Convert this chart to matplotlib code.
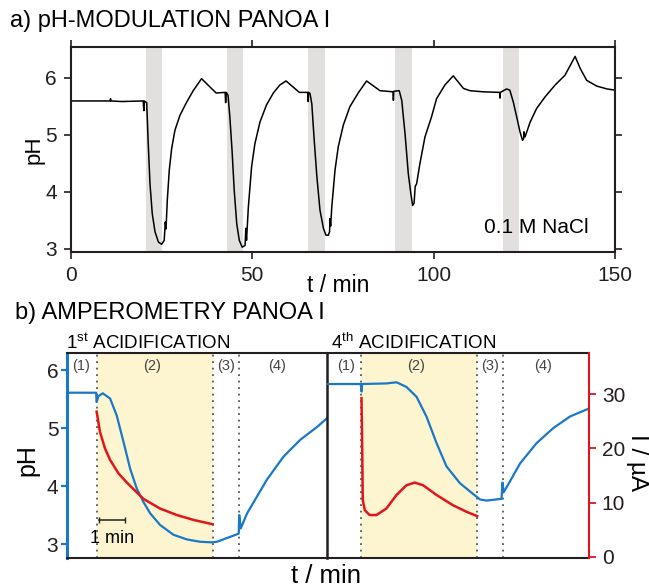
import matplotlib
matplotlib.use('Agg')
import matplotlib.pyplot as plt

plt.rcParams['font.family'] = ['Liberation Sans', 'DejaVu Sans']
plt.rcParams['mathtext.fontset'] = 'custom'
plt.rcParams['mathtext.rm'] = 'Liberation Sans'

# ---- a) pH modulation over the whole run (t in min) ----
t_a = [0, 10.8, 10.9, 11.0, 14, 19.9, 20.1, 20.2, 20.87, 21.3, 21.78, 22.4, 23.16, 24.1, 25.0,
       25.7, 26.0, 26.2, 26.55, 27.1, 27.76, 28.67, 30.05, 31.9, 33.7, 36.0,
       40.0, 42.5, 42.64, 42.8, 43.3, 43.8, 44.4, 45.0, 45.7, 46.4, 47.2, 48.0, 48.2, 48.4,
       48.9, 49.8, 50.7, 52.1, 53.9, 55.8, 57.6, 59.3, 62.96, 65.3, 65.4, 65.5, 65.9, 66.4,
       67.0, 67.8, 68.65, 69.6, 70.3, 70.95, 71.3, 71.4, 71.6, 71.9, 72.8, 73.7, 75.1, 76.9,
       79.2, 81.5, 85.2, 88.8, 88.9, 89.0, 90.5, 91.2, 92.1, 93.0, 93.7, 94.2, 94.6, 94.9,
       95.3, 96.2, 97.6, 99.4, 100.8, 103.1, 105.4, 108.2, 110.0, 113.7, 118.2, 118.3, 118.4,
       120.1, 121.0, 121.96, 122.9, 123.8, 124.5, 124.8, 124.9, 125.2, 126.6, 128.4, 130.7,
       133.5, 136.2, 139.0, 140.4, 142.2, 145.0, 147.8, 150]
ph_a = [5.59, 5.59, 5.63, 5.59, 5.58, 5.59, 5.42, 5.59, 5.56, 4.84, 4.14, 3.62, 3.30, 3.12, 3.08,
        3.15, 3.47, 3.35, 3.85, 4.38, 4.76, 5.08, 5.34, 5.57, 5.77, 5.98,
        5.73, 5.74, 5.56, 5.74, 5.69, 5.31, 4.73, 4.03, 3.44, 3.15, 3.03, 3.06, 3.36, 3.15,
        3.73, 4.44, 4.84, 5.22, 5.52, 5.73, 5.87, 5.94, 5.74, 5.74, 5.58, 5.74, 5.72, 5.54,
        4.96, 4.26, 3.68, 3.36, 3.24, 3.24, 3.30, 3.53, 3.40, 3.73, 4.38, 4.79, 5.17, 5.49,
        5.73, 5.94, 5.77, 5.75, 5.60, 5.76, 5.77, 5.60, 5.02, 4.32, 3.97, 3.76, 3.80, 4.09,
        4.14, 4.49, 4.96, 5.31, 5.63, 5.87, 6.03, 5.81, 5.77, 5.75, 5.74, 5.64, 5.74,
        5.80, 5.78, 5.57, 5.31, 5.05, 4.90, 4.93, 5.05, 4.96, 5.22, 5.46, 5.66,
        5.87, 6.04, 6.37, 6.16, 5.95, 5.85, 5.80, 5.78]
acid_start = [20.8, 42.9, 65.4, 89.3, 119.0]
acid_end = [25.1, 47.5, 70.0, 93.9, 123.5]

# ---- b) amperometry, 1st acidification (t in min from start of window) ----
t_b1 = [0, 1.16, 1.18, 1.25, 1.42, 1.71, 1.97, 2.24, 2.5, 2.76, 3.02, 3.29, 3.68, 4.21, 4.74,
        5.26, 5.72, 5.92, 6.78, 6.80, 6.86, 7.11, 7.5, 7.89, 8.55, 9.21, 9.87, 10.26]
ph_b1 = [5.61, 5.61, 5.45, 5.55, 5.60, 5.51, 5.22, 4.76, 4.30, 3.96, 3.73, 3.53, 3.33, 3.16, 3.08,
         3.04, 3.03, 3.04, 3.18, 3.50, 3.27, 3.53, 3.82, 4.11, 4.51, 4.80, 5.02, 5.17]
ti_b1 = [1.18, 1.31, 1.51, 1.71, 2.04, 2.37, 3.02, 3.68, 4.34, 5.0, 5.75]
i_b1 = [26.8, 23.1, 20.0, 17.9, 15.4, 13.7, 10.7, 8.9, 7.7, 6.8, 6.0]

# ---- b) amperometry, 4th acidification ----
t_b4 = [0, 1.33, 1.36, 1.38, 2.34, 2.74, 3.13, 3.53, 3.92, 4.32, 4.71, 5.24, 5.63, 6.03, 6.29,
        6.88, 6.92, 6.96, 7.21, 7.61, 8.26, 8.92, 9.58, 10.34]
ph_b4 = [5.76, 5.76, 5.63, 5.76, 5.77, 5.79, 5.71, 5.54, 5.20, 4.74, 4.34, 4.05, 3.91, 3.77, 3.75,
         3.78, 4.06, 3.89, 4.08, 4.39, 4.74, 5.00, 5.20, 5.34]
ti_b4 = [1.36, 1.38, 1.41, 1.49, 1.68, 1.95, 2.34, 2.74, 3.13, 3.46, 3.79, 4.32, 4.97, 5.5, 5.92]
i_b4 = [29.3, 22.8, 10.5, 8.6, 7.7, 7.7, 8.9, 11.4, 13.2, 13.7, 13.2, 11.4, 9.5, 8.3, 7.5]

# phase boundaries (1)|(2), (2)|(3), (3)|(4)
bounds_b1 = [1.18, 5.75, 6.80]
bounds_b4 = [1.36, 5.92, 6.92]
phase_names = ['(1)', '(2)', '(3)', '(4)']
phase_x_b1 = [0.57, 3.36, 6.28, 8.29]
phase_x_b4 = [0.76, 3.53, 6.42, 8.53]

W, H = 649, 587
blue = '#1a78c8'
red = '#e0161b'
dark = '#231f20'


def box(l, t, r, b):
    return [l / W, 1 - b / H, (r - l) / W, (b - t) / H]


fig = plt.figure(figsize=(W / 100, H / 100), dpi=100)

# ---------------- panel a ----------------
ax = fig.add_axes(box(71, 46.7, 615, 252.3))
for s, e in zip(acid_start, acid_end):
    ax.axvspan(s, e, color='#e2dfdf', lw=0)
ax.plot(t_a, ph_a, color='black', lw=1.1)
ax.set_xlim(0, 150)
ax.set_ylim(2.94, 6.54)
ax.set_xticks([0, 50, 100, 150])
ax.set_yticks([3, 4, 5, 6])
ax.tick_params(direction='out', length=5, width=1.2, colors=dark, labelsize=15,
               top=True, right=True, labeltop=False, labelright=False, pad=5)
for sp in ax.spines.values():
    sp.set_color(dark)
    sp.set_linewidth(1.5)
ax.text(0.952, 0.12, '0.1 M NaCl', transform=ax.transAxes, ha='right', va='center', fontsize=15)
fig.text(10 / W, 1 - 21 / H, 'a) pH-MODULATION PANOA I', fontsize=17, va='center')
fig.text(34 / W, 1 - 150 / H, 'pH', rotation=90, fontsize=16, ha='center', va='center')
fig.text(338 / W, 1 - 286 / H, 't / min', fontsize=16.5, ha='center', va='center')

# ---------------- panel b ----------------
fig.text(15 / W, 1 - 313 / H, 'b) AMPEROMETRY PANOA I', fontsize=17, va='center')

axl = fig.add_axes(box(66.7, 352.7, 327, 558))
axr = fig.add_axes(box(327, 352.7, 589.3, 558))
axl2 = axl.twinx()
axr2 = axr.twinx()

panels = [(axl, axl2, t_b1, ph_b1, ti_b1, i_b1, bounds_b1, phase_x_b1, 10.26),
          (axr, axr2, t_b4, ph_b4, ti_b4, i_b4, bounds_b4, phase_x_b4, 10.34)]
for a, a2, tt, ph, ti, cur, bd, px, xmax in panels:
    a.axvspan(bd[0], bd[1], color='#fdf5cf', lw=0, zorder=0)
    for b in bd:
        a.axvline(b, color='#555555', lw=1.3, ls=(0, (1, 2.6)), zorder=1)
    a.plot(tt, ph, color=blue, lw=1.6, zorder=3)
    a2.plot(ti, cur, color=red, lw=1.8, zorder=3)
    a.set_xlim(0, xmax)
    a2.set_xlim(0, xmax)
    a.set_ylim(2.76, 6.30)
    a2.set_ylim(-0.24, 37.7)
    a.set_xticks([])
    for lbl, x in zip(phase_names, px):
        a.text(x, 6.07, lbl, ha='center', va='center', fontsize=10.5, color='#444444')
    for sp in a.spines.values():
        sp.set_color(dark)
        sp.set_linewidth(1.5)
    for sp in a2.spines.values():
        sp.set_visible(False)
    a.set_zorder(1)
    a2.set_zorder(2)

axl.set_yticks([3, 4, 5, 6])
axl.tick_params(axis='y', direction='out', length=4, width=1.6, colors=blue,
                labelcolor=dark, labelsize=15, pad=2)
axl.spines['left'].set_color(blue)
axl.spines['left'].set_linewidth(2.2)
axl.spines['right'].set_visible(False)
axl2.set_yticks([])
axr.set_yticks([])
axr.spines['left'].set_linewidth(1.8)
axr.spines['right'].set_visible(False)
axr2.set_yticks([0, 10, 20, 30])
axr2.spines['right'].set_visible(True)
axr2.spines['right'].set_color(red)
axr2.spines['right'].set_linewidth(1.5)
axr2.tick_params(axis='y', direction='out', length=5, width=1.3, colors=red,
                 labelcolor=dark, labelsize=15, pad=4)

# 1 min scale bar
bar_t = [1.28, 2.28]
bar_ph = [3.41, 3.41]
axl.plot(bar_t, bar_ph, color=dark, lw=1.1, marker='|', ms=5, zorder=4)
axl.text(1.78, 3.09, '1 min', ha='center', va='center', fontsize=13, zorder=4)

fig.text(65.7 / W, 1 - 342.7 / H, r'$\mathregular{1^{st}}$ ACIDIFICATION', fontsize=13.5, va='center')
fig.text(331 / W, 1 - 342.7 / H, r'$\mathregular{4^{th}}$ ACIDIFICATION', fontsize=13.5, va='center')
fig.text(27 / W, 1 - 460 / H, 'pH', rotation=90, fontsize=18, ha='center', va='center')
fig.text(637 / W, 1 - 463 / H, 'I / µA', rotation=270, fontsize=17.5, ha='center', va='center')
fig.text(326 / W, 1 - 576 / H, 't / min', fontsize=18.5, ha='center', va='center')

fig.savefig('out.png', dpi=100)
